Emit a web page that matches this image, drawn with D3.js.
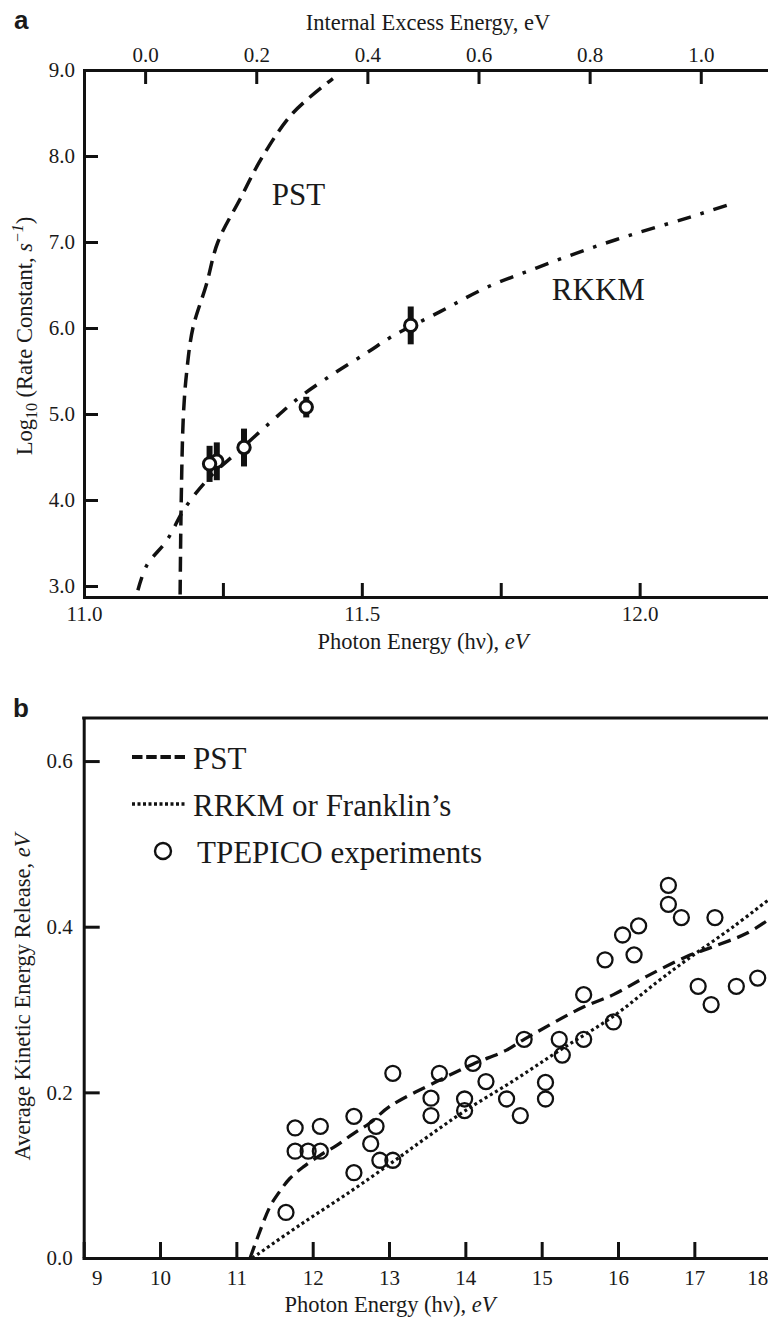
<!DOCTYPE html>
<html>
<head>
<meta charset="utf-8">
<script src="https://cdn.jsdelivr.net/npm/d3@7"></script>
<style>
  body { margin: 0; background: #fff; }
  svg { display: block; }
  text { font-family: "Liberation Serif", "Times New Roman", serif; fill: #1a1a1a; }
  .panel-tag { font-family: "Liberation Sans", Arial, sans-serif; font-weight: bold; font-size: 26px; }
  .axis-title { font-size: 22.5px; }
  .curve-label { font-size: 31px; }
  .legend-label { font-size: 31px; }
</style>
</head>
<body>
<div id="canvas"></div>
<script>
"use strict";

let svgWidth = 768;
let svgHeight = 1318;

/* Panel a: rate constants vs photon energy */
let pstRateHv = [11.173, 11.175, 11.179, 11.185, 11.196, 11.220, 11.241, 11.281, 11.322, 11.376, 11.448];
let pstRateLogk = [2.90, 4.00, 5.00, 5.50, 6.00, 6.50, 7.00, 7.50, 8.00, 8.50, 8.90];

let rkkmRateHv = [11.097, 11.113, 11.149, 11.182, 11.227, 11.275, 11.335, 11.389, 11.452, 11.511,
  11.554, 11.641, 11.724, 11.815, 11.908, 11.998, 12.091, 12.163];
let rkkmRateLogk = [2.95, 3.24, 3.53, 3.91, 4.27, 4.55, 4.90, 5.20, 5.48, 5.72,
  5.90, 6.19, 6.47, 6.70, 6.92, 7.11, 7.29, 7.44];

let expRateHv = [11.239, 11.226, 11.288, 11.400, 11.588];
let expRateLogk = [4.45, 4.42, 4.61, 5.08, 6.03];
let expRateErr = [0.22, 0.21, 0.22, 0.12, 0.22];

let rateTicks = [3, 4, 5, 6, 7, 8, 9];
let photonTicksA = [11, 11.25, 11.5, 11.75, 12];
let photonLabelsA = [11, 11.5, 12];
let excessTicks = [0, 0.2, 0.4, 0.6, 0.8, 1.0];
let excessOffset = 11.11; // eV, photon energy at zero excess energy

/* Panel b: average kinetic energy release */
let pstKerHv = [11.18, 11.267, 11.44, 11.55, 11.70, 11.877, 12.096, 12.315, 12.53, 12.75, 13.01,
  13.625, 14.097, 14.54, 14.77, 15.546, 15.94, 16.376, 16.9, 17.249, 17.686, 17.965];
let pstKerVal = [0.0, 0.022, 0.062, 0.078, 0.096, 0.110, 0.124, 0.136, 0.150, 0.163, 0.183,
  0.213, 0.234, 0.251, 0.264, 0.303, 0.318, 0.340, 0.364, 0.376, 0.392, 0.408];

let rrkmKerHv = [11.21, 11.835, 12.49, 13.05, 13.5, 14.0, 14.63, 15.24, 15.94, 16.51, 16.9, 17.51, 17.965];
let rrkmKerVal = [0.0, 0.040, 0.080, 0.116, 0.146, 0.178, 0.214, 0.251, 0.292, 0.333, 0.360, 0.400, 0.432];

let expKerHv = [11.65, 11.77, 11.77, 11.94, 12.10, 12.10, 12.54, 12.54, 12.83, 12.76, 12.88,
  13.05, 13.05, 13.66, 13.55, 13.55, 14.10, 14.27, 13.99, 13.99, 14.54, 14.72,
  15.05, 15.05, 14.77, 15.23, 15.27, 15.55, 15.94, 15.55, 15.83, 16.21, 16.06,
  16.27, 16.66, 16.66, 16.83, 17.27, 17.05, 17.22, 17.55, 17.83];
let expKerVal = [0.055, 0.157, 0.129, 0.129, 0.159, 0.129, 0.171, 0.103, 0.159, 0.138, 0.118,
  0.223, 0.118, 0.223, 0.193, 0.172, 0.235, 0.213, 0.192, 0.178, 0.192, 0.172,
  0.212, 0.192, 0.264, 0.264, 0.245, 0.264, 0.285, 0.318, 0.360, 0.366, 0.390,
  0.401, 0.450, 0.427, 0.411, 0.411, 0.328, 0.306, 0.328, 0.338];

let kerTicks = [0, 0.2, 0.4, 0.6];
let photonTicksB = [9, 10, 11, 12, 13, 14, 15, 16, 17, 18];

/* Canvas */
let svg = d3.select("#canvas")
  .append("svg")
  .attr("width", svgWidth)
  .attr("height", svgHeight);

let ink = "#111";

function pairs(xs, ys) {
  return xs.map((x, i) => ({ x: x, y: ys[i] }));
}

function styleAxis(g) {
  g.attr("font-family", "'Liberation Serif', 'Times New Roman', serif")
    .attr("font-size", 21);
  g.select(".domain").attr("stroke", ink).attr("stroke-width", 3).attr("stroke-linecap", "square");
  g.selectAll(".tick line").attr("stroke", ink).attr("stroke-width", 3);
  g.selectAll(".tick text").attr("fill", "#1a1a1a");
}

/* ---------- Panel a ---------- */
let xA = d3.scaleLinear().domain([11, 12.231]).range([84, 768]);
let yA = d3.scaleLinear().domain([2.872, 9]).range([597, 70]);
let xTop = d3.scaleLinear()
  .domain([11 - excessOffset, 12.231 - excessOffset])
  .range([84, 768]);

let lineA = d3.line()
  .x(d => xA(d.x))
  .y(d => yA(d.y))
  .curve(d3.curveCatmullRom.alpha(0.5));

svg.append("path")
  .datum(pairs(pstRateHv, pstRateLogk))
  .attr("d", lineA)
  .attr("fill", "none")
  .attr("stroke", ink)
  .attr("stroke-width", 3.5)
  .attr("stroke-dasharray", "15,8");

svg.append("path")
  .datum(pairs(rkkmRateHv, rkkmRateLogk))
  .attr("d", lineA)
  .attr("fill", "none")
  .attr("stroke", ink)
  .attr("stroke-width", 3.5)
  .attr("stroke-dasharray", "14,10,3.5,10");

let rateData = expRateHv.map((x, i) => ({ x: x, y: expRateLogk[i], e: expRateErr[i] }));

svg.selectAll(".err-bar")
  .data(rateData)
  .enter()
  .append("line")
  .attr("class", "err-bar")
  .attr("x1", d => xA(d.x))
  .attr("x2", d => xA(d.x))
  .attr("y1", d => yA(d.y - d.e))
  .attr("y2", d => yA(d.y + d.e))
  .attr("stroke", ink)
  .attr("stroke-width", 6);

svg.selectAll(".rate-point")
  .data(rateData)
  .enter()
  .append("circle")
  .attr("class", "rate-point")
  .attr("cx", d => xA(d.x))
  .attr("cy", d => yA(d.y))
  .attr("r", 6.2)
  .attr("fill", "#fff")
  .attr("stroke", ink)
  .attr("stroke-width", 3);

/* Axes a */
svg.append("g")
  .attr("transform", "translate(84,0)")
  .call(d3.axisLeft(yA).tickValues(rateTicks).tickSize(-14).tickSizeOuter(0)
    .tickPadding(9).tickFormat(d3.format(".1f")))
  .call(styleAxis);

svg.append("g")
  .attr("transform", "translate(0,597)")
  .call(d3.axisBottom(xA).tickValues(photonTicksA).tickSize(-14).tickSizeOuter(0)
    .tickPadding(9).tickFormat(d => photonLabelsA.includes(d) ? d3.format(".1f")(d) : ""))
  .call(styleAxis);

svg.append("g")
  .attr("transform", "translate(0,70)")
  .call(d3.axisTop(xTop).tickValues(excessTicks).tickSize(-14).tickSizeOuter(0)
    .tickPadding(8).tickFormat(d3.format(".1f")))
  .call(styleAxis);

/* Titles a */
svg.append("text")
  .attr("class", "panel-tag")
  .attr("x", 14).attr("y", 29)
  .text("a");

svg.append("text")
  .attr("class", "axis-title")
  .attr("font-size", 23.5)
  .attr("x", 428).attr("y", 30)
  .attr("text-anchor", "middle")
  .text("Internal Excess Energy, eV");

let xTitleA = svg.append("text")
  .attr("class", "axis-title")
  .attr("x", 423).attr("y", 649)
  .attr("text-anchor", "middle");
xTitleA.append("tspan").text("Photon Energy (h\u03BD), ");
xTitleA.append("tspan").attr("font-style", "italic").text("eV");

let yTitleA = svg.append("text")
  .attr("class", "axis-title")
  .attr("font-size", 24)
  .attr("transform", "rotate(-90)")
  .attr("x", -336).attr("y", 32)
  .attr("text-anchor", "middle");
yTitleA.append("tspan").text("Log");
yTitleA.append("tspan").attr("font-size", 16).attr("dy", 5).text("10");
yTitleA.append("tspan").attr("dy", -5).text(" (Rate Constant, ");
yTitleA.append("tspan").attr("font-style", "italic").text("s");
yTitleA.append("tspan").attr("font-style", "italic").attr("font-size", 16).attr("dy", -9).text("\u22121");
yTitleA.append("tspan").attr("dy", 9).text(")");

svg.append("text")
  .attr("class", "curve-label")
  .attr("x", xA(11.338)).attr("y", yA(7.43))
  .text("PST");

svg.append("text")
  .attr("class", "curve-label")
  .attr("x", xA(11.842)).attr("y", yA(6.326))
  .text("RKKM");

/* ---------- Panel b ---------- */
let xB = d3.scaleLinear().domain([9, 17.965]).range([83.7, 768]);
let yB = d3.scaleLinear().domain([0, 0.652]).range([1258, 718]);

let lineB = d3.line()
  .x(d => xB(d.x))
  .y(d => yB(d.y))
  .curve(d3.curveCatmullRom.alpha(0.5));

svg.append("path")
  .datum(pairs(rrkmKerHv, rrkmKerVal))
  .attr("d", lineB)
  .attr("fill", "none")
  .attr("stroke", ink)
  .attr("stroke-width", 3.2)
  .attr("stroke-dasharray", "3,3");

svg.append("path")
  .datum(pairs(pstKerHv, pstKerVal))
  .attr("d", lineB)
  .attr("fill", "none")
  .attr("stroke", ink)
  .attr("stroke-width", 3.3)
  .attr("stroke-dasharray", "13,7");

svg.selectAll(".ker-point")
  .data(pairs(expKerHv, expKerVal))
  .enter()
  .append("circle")
  .attr("class", "ker-point")
  .attr("cx", d => xB(d.x))
  .attr("cy", d => yB(d.y))
  .attr("r", 7.5)
  .attr("fill", "none")
  .attr("stroke", ink)
  .attr("stroke-width", 2.3);

/* Axes b */
svg.append("line")
  .attr("x1", xB(9)).attr("x2", xB.range()[1])
  .attr("y1", yB(0.652)).attr("y2", yB(0.652))
  .attr("stroke", ink)
  .attr("stroke-width", 3)
  .attr("stroke-linecap", "square");

svg.append("g")
  .attr("transform", "translate(" + xB(9) + ",0)")
  .call(d3.axisLeft(yB).tickValues(kerTicks).tickSize(-16).tickSizeOuter(0)
    .tickPadding(11).tickFormat(d3.format(".1f")))
  .call(styleAxis);

let xAxisB = svg.append("g")
  .attr("transform", "translate(0,1258)")
  .call(d3.axisBottom(xB).tickValues(photonTicksB).tickSize(-16).tickSizeOuter(0)
    .tickPadding(12).tickFormat(d3.format("d")))
  .call(styleAxis);

// first label is pushed off the corner, last one sits inside the cropped edge
xAxisB.selectAll(".tick text")
  .filter(d => d === 9)
  .attr("x", 13);

xAxisB.selectAll(".tick text")
  .filter(d => d === 18)
  .attr("text-anchor", "end")
  .attr("x", -3);

svg.append("text")
  .attr("class", "panel-tag")
  .attr("x", 13).attr("y", 717)
  .text("b");

let xTitleB = svg.append("text")
  .attr("class", "axis-title")
  .attr("x", 390).attr("y", 1312)
  .attr("text-anchor", "middle");
xTitleB.append("tspan").text("Photon Energy (h\u03BD), ");
xTitleB.append("tspan").attr("font-style", "italic").text("eV");

let yTitleB = svg.append("text")
  .attr("class", "axis-title")
  .attr("font-size", 22)
  .attr("transform", "rotate(-90)")
  .attr("x", -997).attr("y", 30)
  .attr("text-anchor", "middle");
yTitleB.append("tspan").text("Average Kinetic Energy Release, ");
yTitleB.append("tspan").attr("font-style", "italic").text("eV");

/* Legend b */
let legendItems = [
  { label: "PST", kind: "dash", y: 757 },
  { label: "RRKM or Franklin\u2019s", kind: "dot", y: 804 },
  { label: "TPEPICO experiments", kind: "circle", y: 851 }
];

legendItems.forEach(item => {
  if (item.kind === "circle") {
    svg.append("circle")
      .attr("cx", 163).attr("cy", item.y)
      .attr("r", 8)
      .attr("fill", "none")
      .attr("stroke", ink)
      .attr("stroke-width", 2.4);
  } else {
    svg.append("line")
      .attr("x1", 132).attr("x2", 185)
      .attr("y1", item.y).attr("y2", item.y)
      .attr("stroke", ink)
      .attr("stroke-width", item.kind === "dash" ? 4 : 3.4)
      .attr("stroke-dasharray", item.kind === "dash" ? "10.5,3.7" : "3,2.5");
  }
  svg.append("text")
    .attr("class", "legend-label")
    .attr("x", item.kind === "circle" ? 197 : 193)
    .attr("y", item.y + 12)
    .text(item.label);
});
</script>
</body>
</html>
